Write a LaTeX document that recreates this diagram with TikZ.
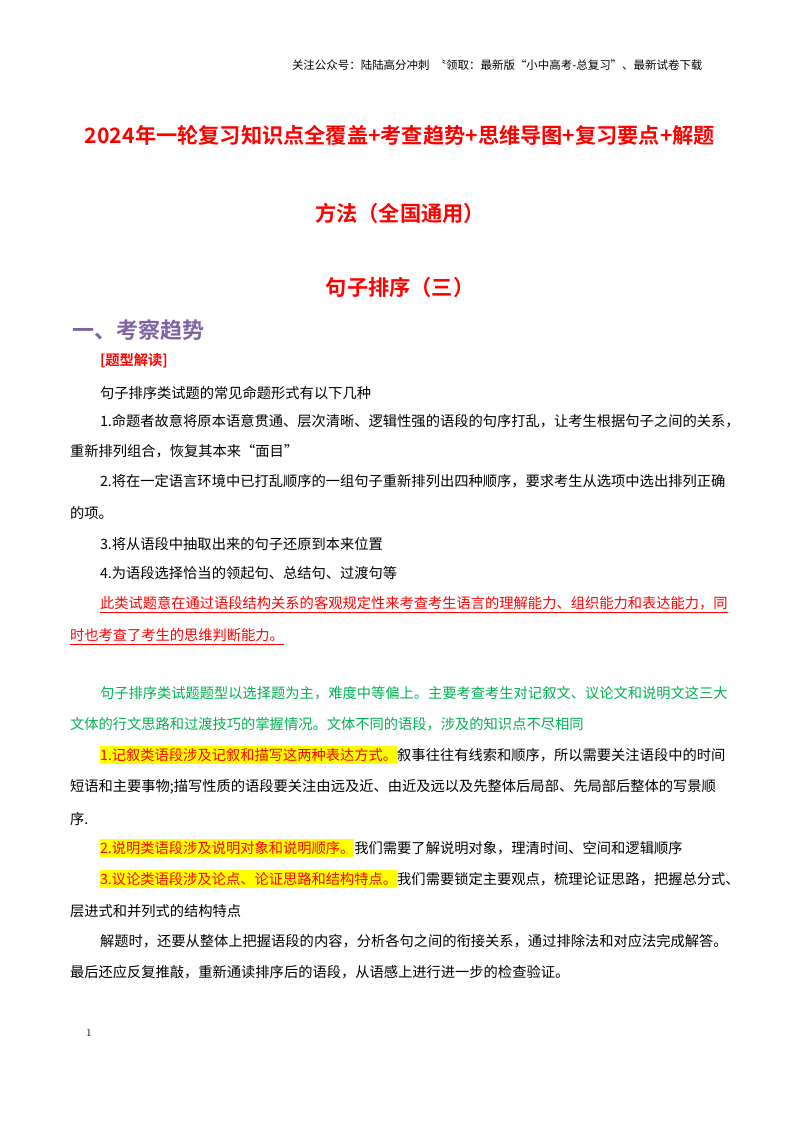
\documentclass[tikz,border=0pt]{standalone}
\usepackage{fontspec}
\newfontfamily\cjk{Noto Sans CJK SC}
\newfontfamily\cjkb{Noto Sans CJK SC Bold}
\definecolor{tred}{HTML}{FF0000}
\definecolor{tpur}{HTML}{8064A2}
\definecolor{tgrn}{HTML}{00B050}
\definecolor{hyel}{HTML}{FFFF00}
\begin{document}
\begin{tikzpicture}[x=0.75pt,y=-0.75pt,
  every node/.style={inner sep=0pt,outer sep=0pt},
  body/.style={anchor=west,font=\cjk\fontsize{10.7pt}{13pt}\selectfont},
  hl/.style={body,fill=hyel,text=tred,inner ysep=1.5pt},
  title/.style={anchor=center,text=tred,font=\cjkb\fontsize{15.9pt}{19pt}\selectfont},
  head/.style={anchor=west,font=\cjk\fontsize{8.6pt}{10pt}\selectfont}]
\useasboundingbox (0,0) rectangle (800,1132);
\node[head] (hd) at (292,65) {关注公众号：陆陆高分冲刺\ \ 〝领取：最新版“小中高考-总复习”、最新试卷下载};
\node[title] (t1) at (400,135) {2024年一轮复习知识点全覆盖+考查趋势+思维导图+复习要点+解题};
\node[title] (t2) at (400,213) {方法（全国通用）};
\node[title] (t3) at (400,287) {句子排序（三）};
\node[anchor=west,text=tpur,font=\cjkb\fontsize{16.5pt}{19pt}\selectfont] (h1) at (72,330) {一、考察趋势};
\node[body,text=tred,font=\cjkb\fontsize{10.7pt}{13pt}\selectfont] (h2) at (100,361) {[题型解读]};
\node[body] (p0) at (100,393) {句子排序类试题的常见命题形式有以下几种};
\node[body] (p1) at (100,421) {1.命题者故意将原本语意贯通、层次清晰、逻辑性强的语段的句序打乱，让考生根据句子之间的关系，};
\node[body] (p1b) at (70,451) {重新排列组合，恢复其本来“面目”};
\node[body] (p2) at (100,481) {2.将在一定语言环境中已打乱顺序的一组句子重新排列出四种顺序，要求考生从选项中选出排列正确};
\node[body] (p2b) at (70,513) {的项。};
\node[body] (p3) at (100,544) {3.将从语段中抽取出来的句子还原到本来位置};
\node[body] (p4) at (100,573) {4.为语段选择恰当的领起句、总结句、过渡句等};
\node[body,text=tred] (r1) at (100,603) {此类试题意在通过语段结构关系的客观规定性来考查考生语言的理解能力、组织能力和表达能力，同};
\node[body,text=tred] (r2) at (70,635) {时也考查了考生的思维判断能力。};
\draw[tred,line width=0.8pt] ([yshift=-2pt]r1.south west) -- ([yshift=-2pt]r1.south east);
\draw[tred,line width=0.8pt] ([yshift=-2pt]r2.south west) -- ([yshift=-2pt]r2.south east);
\node[body,text=tgrn] (g1) at (100,693) {句子排序类试题题型以选择题为主，难度中等偏上。主要考查考生对记叙文、议论文和说明文这三大};
\node[body,text=tgrn] (g2) at (70,724) {文体的行文思路和过渡技巧的掌握情况。文体不同的语段，涉及的知识点不尽相同};
\node[hl] (a1) at (100,755) {1.记叙类语段涉及记叙和描写这两种表达方式。};
\node[body] (a1r) at (a1.east) {叙事往往有线索和顺序，所以需要关注语段中的时间};
\node[body] (a1b) at (70,787) {短语和主要事物;描写性质的语段要关注由远及近、由近及远以及先整体后局部、先局部后整体的写景顺};
\node[body] (a1c) at (70,819) {序.};
\node[hl] (a2) at (100,848) {2.说明类语段涉及说明对象和说明顺序。};
\node[body] (a2r) at (a2.east) {我们需要了解说明对象，理清时间、空间和逻辑顺序};
\node[hl] (a3) at (100,879) {3.议论类语段涉及论点、论证思路和结构特点。};
\node[body] (a3r) at (a3.east) {我们需要锁定主要观点，梳理论证思路，把握总分式、};
\node[body] (a3b) at (70,911) {层进式和并列式的结构特点};
\node[body] (s1) at (100,941) {解题时，还要从整体上把握语段的内容，分析各句之间的衔接关系，通过排除法和对应法完成解答。};
\node[body] (s2) at (70,972) {最后还应反复推敲，重新通读排序后的语段，从语感上进行进一步的检查验证。};
\node[anchor=center,font=\fontsize{8pt}{10pt}\selectfont] (pg) at (89,1033) {1};
\end{tikzpicture}
\end{document}
